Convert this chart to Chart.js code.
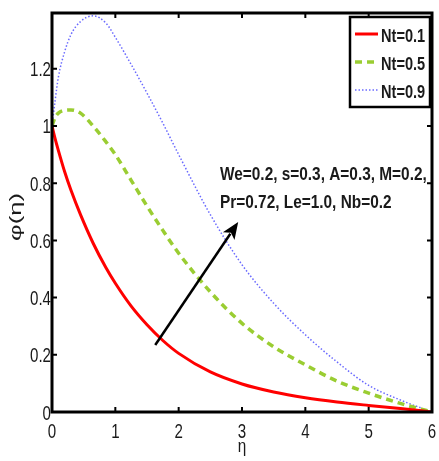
<!DOCTYPE html>
<html>
<head>
<meta charset="utf-8">
<script src="https://cdn.jsdelivr.net/npm/chart.js@4.4.1/dist/chart.umd.min.js"></script>
<style>
  html, body { margin: 0; padding: 0; background: #fff; }
  #wrap { width: 439px; height: 461px; }
</style>
</head>
<body>
<div id="wrap"><canvas id="phiChart" width="439" height="461"></canvas></div>
<script>
const eta = [0, 0.05, 0.1, 0.2, 0.3, 0.45, 0.65, 0.85, 1.0, 1.25, 1.5, 1.75, 2.0, 2.5, 3.0, 3.5, 4.0, 4.5, 5.0, 5.5, 6.0];
const phiNt01 = [1.0, 0.955, 0.915, 0.84, 0.775, 0.69, 0.59, 0.505, 0.45, 0.37, 0.305, 0.25, 0.205, 0.14, 0.098, 0.07, 0.05, 0.035, 0.023, 0.012, 0];
const phiNt05 = [1.0, 1.03, 1.045, 1.055, 1.056, 1.045, 1.0, 0.945, 0.90, 0.81, 0.72, 0.635, 0.555, 0.42, 0.31, 0.228, 0.165, 0.108, 0.066, 0.03, 0];
const phiNt09 = [1.0, 1.09, 1.17, 1.26, 1.32, 1.365, 1.385, 1.36, 1.31, 1.215, 1.115, 1.01, 0.90, 0.69, 0.515, 0.38, 0.27, 0.175, 0.093, 0.042, 0];
const seriesLabels = ["Nt=0.1", "Nt=0.5", "Nt=0.9"];
const xTicks = [0, 1, 2, 3, 4, 5, 6];
const yTicks = [0, 0.2, 0.4, 0.6, 0.8, 1, 1.2];
const paramLines = ["We=0.2, s=0.3, A=0.3, M=0.2,", "Pr=0.72, Le=1.0, Nb=0.2"];
const arrowFrom = [1.63, 0.234];
const arrowTo = [2.94, 0.664];

const FONT = "'Liberation Sans', Arial, Helvetica, sans-serif";
const INK = "#1a1a1a";

function toPoints(ys) {
  return eta.map((x, i) => ({ x, y: ys[i] }));
}

// condensed text: squeeze horizontally around the anchor point
function narrowText(ctx, text, x, y, font, sx, align, rotate) {
  ctx.save();
  ctx.translate(x, y);
  if (rotate) ctx.rotate(-Math.PI / 2);
  ctx.scale(sx, 1);
  ctx.font = font;
  ctx.fillStyle = INK;
  ctx.textAlign = align;
  ctx.textBaseline = "alphabetic";
  ctx.fillText(text, 0, 0);
  ctx.restore();
}

// box, inward ticks, tick labels, titles, arrow, parameter text and legend
const framePlugin = {
  id: "frame",
  afterDatasetsDraw(chart) {
    const { ctx, chartArea: a, scales } = chart;
    const xs = scales.x, ys = scales.y;
    ctx.save();

    // arrow
    const x0 = xs.getPixelForValue(arrowFrom[0]), y0 = ys.getPixelForValue(arrowFrom[1]);
    const x1 = xs.getPixelForValue(arrowTo[0]), y1 = ys.getPixelForValue(arrowTo[1]);
    const ang = Math.atan2(y1 - y0, x1 - x0);
    const headLen = 17, headW = 7;
    const bx = x1 - headLen * Math.cos(ang), by = y1 - headLen * Math.sin(ang);
    ctx.strokeStyle = "#000";
    ctx.lineWidth = 2.5;
    ctx.beginPath();
    ctx.moveTo(x0, y0);
    ctx.lineTo(bx + 3 * Math.cos(ang), by + 3 * Math.sin(ang));
    ctx.stroke();
    ctx.fillStyle = "#000";
    ctx.beginPath();
    ctx.moveTo(x1, y1);
    ctx.lineTo(bx + headW * Math.sin(ang), by - headW * Math.cos(ang));
    ctx.lineTo(bx + 4 * Math.cos(ang), by + 4 * Math.sin(ang));
    ctx.lineTo(bx - headW * Math.sin(ang), by + headW * Math.cos(ang));
    ctx.closePath();
    ctx.fill();

    // parameter text
    narrowText(ctx, paramLines[0], 220, 180, "bold 18px " + FONT, 0.855, "left");
    narrowText(ctx, paramLines[1], 220, 208, "bold 18px " + FONT, 0.855, "left");

    // axes box
    ctx.strokeStyle = "#000";
    ctx.lineWidth = 3;
    ctx.strokeRect(a.left, a.top, a.right - a.left, a.bottom - a.top);

    // inward ticks on all four sides
    ctx.lineWidth = 2;
    const tl = 5;
    ctx.beginPath();
    xs.ticks.forEach(t => {
      const px = xs.getPixelForValue(t.value);
      ctx.moveTo(px, a.bottom); ctx.lineTo(px, a.bottom - tl);
      ctx.moveTo(px, a.top); ctx.lineTo(px, a.top + tl);
    });
    ys.ticks.forEach(t => {
      const py = ys.getPixelForValue(t.value);
      ctx.moveTo(a.left, py); ctx.lineTo(a.left + tl, py);
      ctx.moveTo(a.right, py); ctx.lineTo(a.right - tl, py);
    });
    ctx.stroke();

    // tick labels
    const tickFont = "21px " + FONT;
    xs.ticks.forEach(t => {
      const px = xs.getPixelForValue(t.value);
      narrowText(ctx, String(t.label ?? t.value), px, a.bottom + 26, tickFont, 0.72, "center");
    });
    ys.ticks.forEach(t => {
      const py = ys.getPixelForValue(t.value);
      narrowText(ctx, String(t.label ?? t.value), a.left - 1, py + 7.5, tickFont, 0.72, "right");
    });

    // axis titles
    narrowText(ctx, xs.options.title.text, (a.left + a.right) / 2, 452, "18px " + FONT, 0.85, "center");
    ctx.font = "17px " + FONT;
    const yt = ys.options.title.text;
    const stretch = 48 / ctx.measureText(yt).width;
    narrowText(ctx, yt, 21, 217, "17px " + FONT, stretch, "center", true);

    // legend
    const lx = 350, ly = 17, lw = 80, lh = 90;
    ctx.fillStyle = "#fff";
    ctx.fillRect(lx, ly, lw, lh);
    ctx.lineWidth = 2.5;
    ctx.strokeStyle = "#000";
    ctx.strokeRect(lx, ly, lw, lh);
    const rows = [34, 62, 90];
    chart.data.datasets.forEach((ds, i) => {
      const ry = rows[i];
      ctx.strokeStyle = ds.borderColor;
      ctx.lineWidth = ds.borderWidth;
      ctx.setLineDash(ds.borderDash || []);
      ctx.beginPath();
      ctx.moveTo(355, ry);
      ctx.lineTo(378, ry);
      ctx.stroke();
      ctx.setLineDash([]);
      narrowText(ctx, ds.label, 381, ry + 8, "bold 18px " + FONT, 0.81, "left");
    });
    ctx.restore();
  }
};

const ctx = document.getElementById("phiChart").getContext("2d");
new Chart(ctx, {
  type: "line",
  data: {
    datasets: [
      {
        label: seriesLabels[0],
        data: toPoints(phiNt01),
        borderColor: "#ff0000",
        borderWidth: 3,
        cubicInterpolationMode: "monotone"
      },
      {
        label: seriesLabels[1],
        data: toPoints(phiNt05),
        borderColor: "#9acd32",
        borderWidth: 3.5,
        borderDash: [7, 5],
        cubicInterpolationMode: "monotone"
      },
      {
        label: seriesLabels[2],
        data: toPoints(phiNt09),
        borderColor: "#6a6aff",
        borderWidth: 1.5,
        borderDash: [1.5, 2],
        cubicInterpolationMode: "monotone"
      }
    ]
  },
  options: {
    responsive: false,
    animation: false,
    elements: { point: { radius: 0 } },
    layout: { autoPadding: false, padding: { top: 13, right: 7, left: 0, bottom: 0 } },
    plugins: {
      legend: { display: false },
      tooltip: { enabled: false }
    },
    scales: {
      x: {
        type: "linear",
        min: 0,
        max: 6,
        grid: { display: false, drawTicks: false },
        border: { display: false },
        afterBuildTicks: s => { s.ticks = xTicks.map(v => ({ value: v })); },
        afterFit: s => { s.height = 49; },
        ticks: { display: false, callback: v => String(v) },
        title: { display: false, text: "η" }
      },
      y: {
        min: 0,
        max: 1.395,
        grid: { display: false, drawTicks: false },
        border: { display: false },
        afterBuildTicks: s => { s.ticks = yTicks.map(v => ({ value: v })); },
        afterFit: s => { s.width = 52; },
        ticks: { display: false, callback: v => String(Math.round(v * 10) / 10) },
        title: { display: false, text: "φ(η)" }
      }
    }
  },
  plugins: [framePlugin]
});
</script>
</body>
</html>
